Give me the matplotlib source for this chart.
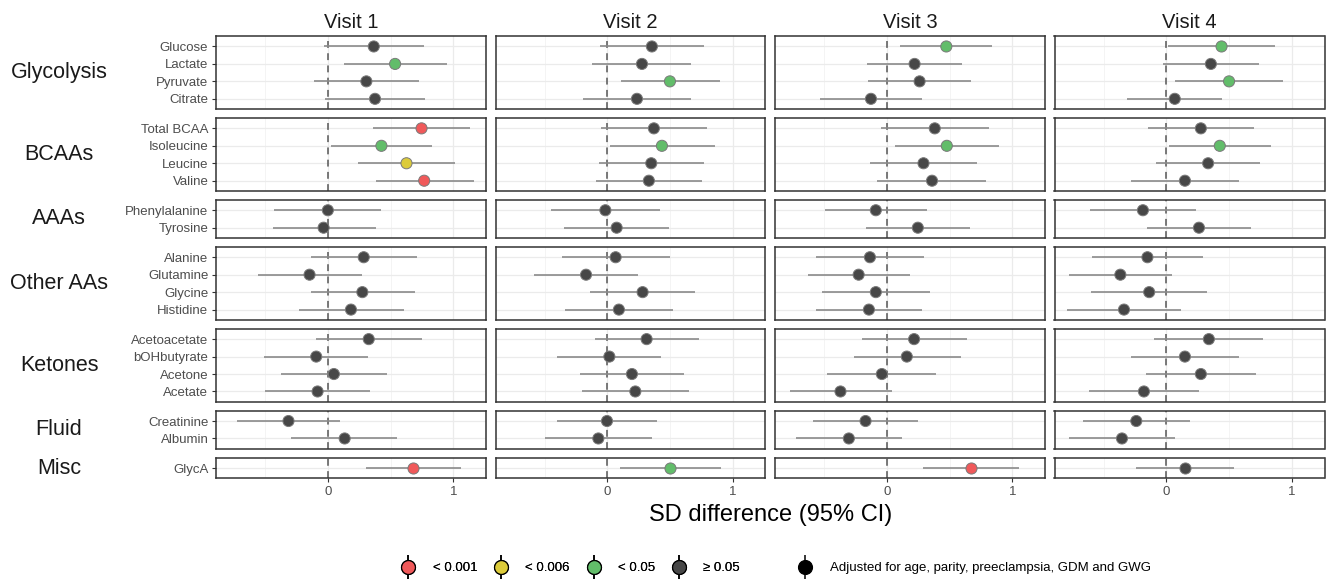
import matplotlib
matplotlib.use("Agg")
import matplotlib.pyplot as plt
from matplotlib.legend_handler import HandlerTuple
from matplotlib.lines import Line2D
from matplotlib.ticker import FixedLocator

plt.rcParams["font.family"] = ["Liberation Sans", "DejaVu Sans"]

groups = ["Glycolysis", "BCAAs", "AAAs", "Other AAs", "Ketones", "Fluid", "Misc"]
group_sizes = [4, 4, 2, 4, 4, 2, 1]
metabolites = ["Glucose", "Lactate", "Pyruvate", "Citrate",
               "Total BCAA", "Isoleucine", "Leucine", "Valine",
               "Phenylalanine", "Tyrosine",
               "Alanine", "Glutamine", "Glycine", "Histidine",
               "Acetoacetate", "bOHbutyrate", "Acetone", "Acetate",
               "Creatinine", "Albumin",
               "GlycA"]
visits = ["Visit 1", "Visit 2", "Visit 3", "Visit 4"]

v1_est = [0.366, 0.536, 0.307, 0.376, 0.747, 0.427, 0.627, 0.768, 0.0, -0.034,
          0.286, -0.146, 0.275, 0.184, 0.326, -0.093, 0.048, -0.082, -0.314, 0.134, 0.68]
v1_lo = [-0.032, 0.126, -0.112, -0.024, 0.36, 0.022, 0.24, 0.382, -0.429, -0.44,
         -0.136, -0.56, -0.138, -0.232, -0.093, -0.506, -0.37, -0.5, -0.728, -0.293, 0.302]
v1_hi = [0.763, 0.947, 0.723, 0.778, 1.134, 0.83, 1.016, 1.163, 0.42, 0.38,
         0.707, 0.272, 0.696, 0.606, 0.747, 0.323, 0.472, 0.334, 0.099, 0.555, 1.059]
v1_sig = ["ns", "p05", "ns", "ns", "p001", "p05", "p006", "p001", "ns", "ns",
          "ns", "ns", "ns", "ns", "ns", "ns", "ns", "ns", "ns", "ns", "p001"]

v2_est = [0.355, 0.276, 0.499, 0.236, 0.371, 0.435, 0.35, 0.331, -0.016, 0.074,
          0.066, -0.17, 0.281, 0.092, 0.313, 0.016, 0.196, 0.223, -0.003, -0.072, 0.499]
v2_lo = [-0.061, -0.12, 0.106, -0.194, -0.048, 0.018, -0.067, -0.093, -0.449, -0.342,
         -0.364, -0.587, -0.135, -0.337, -0.101, -0.398, -0.215, -0.205, -0.398, -0.499, 0.098]
v2_hi = [0.772, 0.669, 0.897, 0.669, 0.796, 0.86, 0.769, 0.756, 0.419, 0.494,
         0.499, 0.247, 0.701, 0.522, 0.727, 0.43, 0.61, 0.653, 0.393, 0.358, 0.908]
v2_sig = ["ns", "ns", "p05", "ns", "ns", "p05", "ns", "ns", "ns", "ns",
          "ns", "ns", "ns", "ns", "ns", "ns", "ns", "ns", "ns", "ns", "p05"]

v3_est = [0.474, 0.221, 0.261, -0.127, 0.382, 0.478, 0.292, 0.36, -0.088, 0.247,
          -0.135, -0.225, -0.088, -0.143, 0.217, 0.159, -0.04, -0.37, -0.17, -0.303, 0.671]
v3_lo = [0.105, -0.157, -0.151, -0.533, -0.043, 0.066, -0.133, -0.075, -0.497, -0.17,
         -0.568, -0.632, -0.517, -0.568, -0.202, -0.266, -0.475, -0.772, -0.589, -0.722, 0.292]
v3_hi = [0.841, 0.603, 0.669, 0.279, 0.812, 0.892, 0.717, 0.794, 0.32, 0.659,
         0.297, 0.188, 0.345, 0.28, 0.637, 0.589, 0.389, 0.04, 0.252, 0.12, 1.05]
v3_sig = ["p05", "ns", "ns", "ns", "ns", "p05", "ns", "ns", "ns", "ns",
          "ns", "ns", "ns", "ns", "ns", "ns", "ns", "ns", "ns", "ns", "p001"]

v4_est = [0.44, 0.355, 0.5, 0.067, 0.275, 0.426, 0.333, 0.148, -0.187, 0.26,
          -0.151, -0.367, -0.137, -0.338, 0.339, 0.148, 0.275, -0.179, -0.24, -0.354, 0.148]
v4_lo = [0.016, -0.024, 0.071, -0.31, -0.143, 0.021, -0.082, -0.283, -0.608, -0.156,
         -0.595, -0.775, -0.598, -0.794, -0.095, -0.278, -0.161, -0.613, -0.667, -0.778, -0.24]
v4_hi = [0.865, 0.738, 0.932, 0.444, 0.696, 0.836, 0.749, 0.579, 0.233, 0.678,
         0.294, 0.043, 0.325, 0.114, 0.773, 0.579, 0.717, 0.257, 0.186, 0.066, 0.54]
v4_sig = ["p05", "ns", "p05", "ns", "ns", "p05", "ns", "ns", "ns", "ns",
          "ns", "ns", "ns", "ns", "ns", "ns", "ns", "ns", "ns", "ns", "ns"]

sig_levels = ["p001", "p006", "p05", "ns"]
sig_labels = ["< 0.001", "< 0.006", "< 0.05", "\u2265 0.05"]
sig_colors = {"p001": "#F0595A", "p006": "#DCCB3A", "p05": "#62BD6A", "ns": "#474747"}
adjust_label = "Adjusted for age, parity, preeclampsia, GDM and GWG"

estimates = [v1_est, v2_est, v3_est, v4_est]
lowers = [v1_lo, v2_lo, v3_lo, v4_lo]
uppers = [v1_hi, v2_hi, v3_hi, v4_hi]
sigs = [v1_sig, v2_sig, v3_sig, v4_sig]

# layout in pixels
W, H = 1326, 581
col_left = [216, 495.5, 775, 1054.5]
col_w = 270
top0 = 36
unit = 17.45
gap = 8.6
xlim = (-0.892, 1.261)

fig = plt.figure(figsize=(W / 100, H / 100), dpi=100)

row_tops = []
t = top0
for n in group_sizes:
    row_tops.append(t)
    t += (n + 0.2) * unit + gap

start = 0
for r, (grp, n) in enumerate(zip(groups, group_sizes)):
    idx = list(range(start, start + n))
    start += n
    h = (n + 0.2) * unit
    top = row_tops[r]
    fig.text(59 / W, 1 - (top + h / 2) / H, grp, ha="center", va="center",
             fontsize=15.5, color="#1a1a1a")
    for c in range(4):
        ax = fig.add_axes([col_left[c] / W, 1 - (top + h) / H, col_w / W, h / H])
        ys = list(range(n))
        est = [estimates[c][i] for i in idx]
        lo = [lowers[c][i] for i in idx]
        hi = [uppers[c][i] for i in idx]
        cols = [sig_colors[sigs[c][i]] for i in idx]

        ax.set_xlim(*xlim)
        ax.set_ylim(n - 0.4, -0.6)
        ax.xaxis.set_major_locator(FixedLocator([0, 1]))
        ax.xaxis.set_minor_locator(FixedLocator([-0.5, 0.5]))
        ax.set_yticks(ys)
        ax.grid(which="major", color="#ebebeb", lw=0.9)
        ax.grid(which="minor", axis="x", color="#f2f2f2", lw=0.6)
        ax.set_axisbelow(True)
        ax.axvline(0, color="#555555", lw=1.1, ls=(0, (4.5, 3.5)), zorder=1)
        ax.hlines(ys, lo, hi, color="#8a8a8a", lw=1.2, zorder=2)
        ax.scatter(est, ys, s=64, c=cols, edgecolors="#7a7a7a", linewidths=0.7, zorder=3)

        for sp in ax.spines.values():
            sp.set_color("#333333")
            sp.set_linewidth(1.1)
        ax.tick_params(which="minor", length=0)
        ax.tick_params(which="major", color="#333333", length=3, width=0.8,
                       labelsize=9.5, labelcolor="#4d4d4d", pad=2.5)
        if c == 0:
            ax.set_yticklabels([metabolites[i] for i in idx])
        else:
            ax.tick_params(axis="y", length=0, labelleft=False)
        if r == len(groups) - 1:
            ax.set_xticklabels(["0", "1"])
        else:
            ax.tick_params(axis="x", length=0, labelbottom=False)
        if r == 0:
            ax.set_title(visits[c], fontsize=14.5, color="#1a1a1a", pad=6)

fig.text((col_left[0] + col_left[3] + col_w) / 2 / W, 1 - 515 / H,
         "SD difference (95% CI)", ha="center", va="center", fontsize=17, color="black")


def key(color):
    bar = Line2D([], [], marker="|", markersize=17, mew=1.1, color="black", ls="")
    dot = Line2D([], [], marker="o", markersize=10, mfc=color, mec="black", mew=0.9, ls="")
    return (bar, dot)


leg_kw = dict(handler_map={tuple: HandlerTuple(ndivide=1)}, frameon=False,
              fontsize=9.5, handlelength=1.0, handletextpad=1.35,
              borderpad=0, borderaxespad=0, loc="center left")
leg1 = fig.legend([key(sig_colors[s]) for s in sig_levels], sig_labels,
                  bbox_to_anchor=(401.5 / W, 1 - 568 / H), ncol=4,
                  columnspacing=1.3, **leg_kw)
fig.add_artist(leg1)
fig.legend([key("black")], [adjust_label],
           bbox_to_anchor=(798.5 / W, 1 - 568 / H), **leg_kw)

fig.savefig("out.png", dpi=100)
